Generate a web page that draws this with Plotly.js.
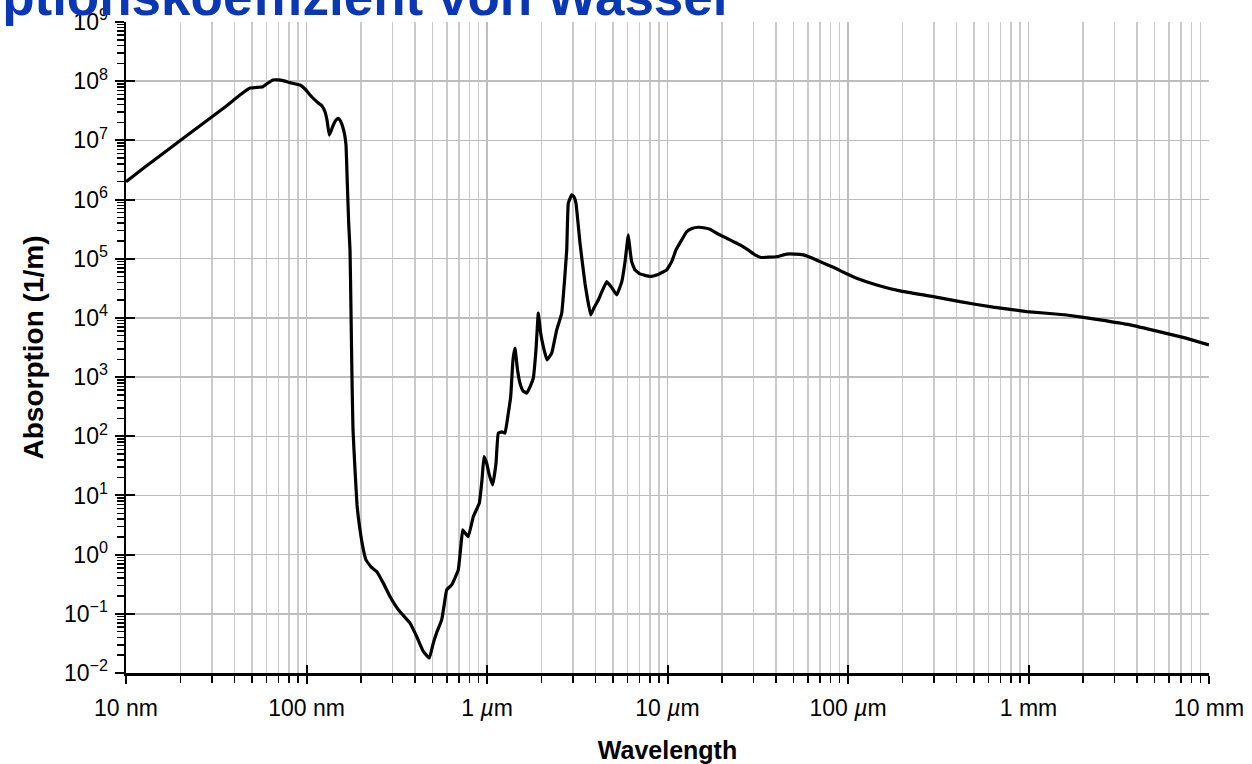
<!DOCTYPE html>
<html>
<head>
<meta charset="utf-8">
<script src="https://cdn.plot.ly/plotly-3.0.1.min.js"></script>
<style>html,body{margin:0;padding:0;background:#fff;overflow:hidden}#chart{width:1252px;height:764px}</style>
</head>
<body>
<div id="chart"></div>
<script>
// Wavelength in nm
const wavelengthNm = [10,12.74,16.45,21.2,27.4,35.4,42.8,48.6,52.5,57.4,61.2,65.2,69.5,75.0,81.0,92.0,98.1,104.6,113.9,121.9,126.6,129.9,133.7,136.7,140.8,145.7,150.1,154.3,158.7,162.4,165.5,168.3,171.3,174.2,176.4,178.7,181.0,185.7,190.5,197.9,205.6,213.6,227.7,244.9,266.4,290.1,309.2,329.6,374.5,407.8,443.8,479.0,504.1,528.4,561.0,577.8,598.0,637.4,664.9,693.4,713.2,733.5,755.3,787.8,839.9,906.5,938.3,962.5,996,1026,1075,1122,1155,1211,1258,1312,1353,1393,1429,1476,1523,1583,1660,1731,1805,1868,1924,1979,2051,2150,2283,2433,2594,2681,2765,2821,2946,3034,3112,3275,3490,3754,3916,4137,4606,4925,5231,5577,5816,6066,6199,6333,6607,7041,8000,8860,9900,10550,11150,11990,12780,13670,14810,16140,17200,19050,21280,23150,25220,27930,30530,32960,35440,40270,45750,50870,56550,63200,70000,82900,96200,111700,144200,194200,296900,417400,638000,977000,1628000,2489000,3650000,5350000,7360000,10000000];
// Absorption coefficient in 1/m
const absorption = [2.0e6,3.56e6,6.37e6,1.14e7,2.05e7,3.67e7,5.85e7,7.67e7,7.83e7,8.07e7,9.33e7,1.05e8,1.05e8,1.01e8,9.44e7,8.63e7,7.38e7,5.85e7,4.51e7,3.81e7,3.05e7,2.21e7,1.23e7,1.44e7,1.82e7,2.21e7,2.36e7,2.13e7,1.70e7,1.28e7,8.36e6,1.88e6,3.98e5,1.41e5,1.36e4,898,128,27.1,6.93,2.62,1.30,0.817,0.622,0.518,0.330,0.196,0.142,0.108,0.0697,0.0414,0.0231,0.0179,0.0320,0.0497,0.0792,0.136,0.254,0.309,0.406,0.553,1.21,2.62,2.33,2.02,4.40,7.41,18.4,45.4,35.1,23.2,15.1,35.1,113,119,113,245,469,1950,3080,1320,789,585,535,683,958,2880,1.20e4,5800,3270,1950,2530,6270,1.20e4,3.85e4,1.41e5,8.66e5,1.20e6,1.11e6,8.66e5,1.83e5,3.85e4,1.12e4,1.48e4,2.01e4,4.10e4,3.21e4,2.45e4,4.06e4,8.83e4,2.52e5,1.41e5,8.83e4,6.47e4,5.54e4,5.02e4,5.43e4,6.47e4,8.93e4,1.41e5,2.08e5,2.87e5,3.25e5,3.40e5,3.31e5,3.15e5,2.62e5,2.22e5,1.95e5,1.71e5,1.41e5,1.16e5,1.05e5,1.06e5,1.08e5,1.20e5,1.20e5,1.16e5,1.03e5,8.93e4,7.18e4,5.75e4,4.69e4,3.61e4,2.86e4,2.29e4,1.88e4,1.52e4,1.28e4,1.12e4,9.25e3,7.62e3,5.81e3,4.59e3,3.50e3];

const xTickVals = [10,100,1000,10000,100000,1000000,10000000];
const xTickText = ['10 nm','100 nm','1 <i>µ</i>m','10 <i>µ</i>m','100 <i>µ</i>m','1 mm','10 mm'];
const yTickVals = [1e-2,1e-1,1e0,1e1,1e2,1e3,1e4,1e5,1e6,1e7,1e8,1e9];
const yTickText = ['10<sup>−2</sup>','10<sup>−1</sup>','10<sup>0</sup>','10<sup>1</sup>','10<sup>2</sup>','10<sup>3</sup>','10<sup>4</sup>','10<sup>5</sup>','10<sup>6</sup>','10<sup>7</sup>','10<sup>8</sup>','10<sup>9</sup>'];
const titleText = 'Absorptionskoeffizient von Wasser';
const xTitle = 'Wavelength';
const yTitle = 'Absorption (1/m)';

const FONT = 'Arial, "Liberation Sans", sans-serif';

const traces = [
  {x: wavelengthNm, y: absorption, type: 'scatter', mode: 'lines',
   line: {color: '#000', width: 3.2, shape: 'spline', smoothing: 0.3}, hoverinfo: 'skip', showlegend: false},
  {x: wavelengthNm, y: absorption, type: 'scatter', mode: 'lines', xaxis: 'x2', yaxis: 'y2',
   opacity: 0, line: {color: '#000', width: 0}, hoverinfo: 'skip', showlegend: false}
];

const layout = {
  width: 1252, height: 764,
  margin: {l: 126, r: 43, t: 22, b: 91},
  paper_bgcolor: '#fff', plot_bgcolor: '#fff',
  font: {family: FONT, color: '#000', size: 23},
  showlegend: false,
  xaxis: {
    type: 'log', range: [1, 7],
    tickvals: xTickVals, ticktext: xTickText,
    ticks: 'outside', ticklen: 8, tickwidth: 2, tickcolor: '#000',
    ticklabelstandoff: 5,
    showline: true, linecolor: '#000', linewidth: 2.5,
    showgrid: true, gridcolor: '#bdbdbd', gridwidth: 1.5,
    tickfont: {family: FONT, size: 23, color: '#000'},
    minor: {dtick: 'D1', ticks: 'outside', ticklen: 7, tickwidth: 1.5, tickcolor: '#000',
            showgrid: true, gridcolor: '#cacaca', gridwidth: 1.5},
    title: {text: xTitle, font: {family: FONT, size: 25, color: '#000', weight: 'bold'}, standoff: 30},
    zeroline: false, automargin: false
  },
  yaxis: {
    type: 'log', range: [-2, 9],
    tickvals: yTickVals, ticktext: yTickText,
    ticks: 'outside', ticklen: 9, tickwidth: 2, tickcolor: '#000',
    ticklabelstandoff: 2,
    showline: true, linecolor: '#000', linewidth: 2.5,
    showgrid: true, gridcolor: '#bdbdbd', gridwidth: 1.5,
    tickfont: {family: FONT, size: 23, color: '#000'},
    minor: {dtick: 'D1', ticks: 'outside', ticklen: 7, tickwidth: 1.5, tickcolor: '#000', showgrid: false},
    title: {text: yTitle, font: {family: FONT, size: 28, color: '#000', weight: 'bold'}, standoff: 12},
    zeroline: false, automargin: false
  },
  xaxis2: {
    type: 'log', range: [1, 7], overlaying: 'x', anchor: 'y', side: 'bottom',
    tickvals: xTickVals, ticks: 'inside', ticklen: 8, tickwidth: 2, tickcolor: '#000',
    showticklabels: false, showgrid: false, showline: false, zeroline: false
  },
  yaxis2: {
    type: 'log', range: [-2, 9], overlaying: 'y', anchor: 'x', side: 'left',
    tickvals: yTickVals, ticks: 'inside', ticklen: 9, tickwidth: 2, tickcolor: '#000',
    showticklabels: false, showgrid: false, showline: false, zeroline: false
  },
  annotations: [{
    text: '<b>' + titleText + '</b>', xref: 'paper', yref: 'paper',
    x: -0.258, y: 0.991, xanchor: 'left', yanchor: 'bottom', showarrow: false,
    font: {family: FONT, size: 53, color: '#0a38b4'}
  }]
};

Plotly.newPlot('chart', traces, layout, {staticPlot: true, displayModeBar: false});
</script>
</body>
</html>
